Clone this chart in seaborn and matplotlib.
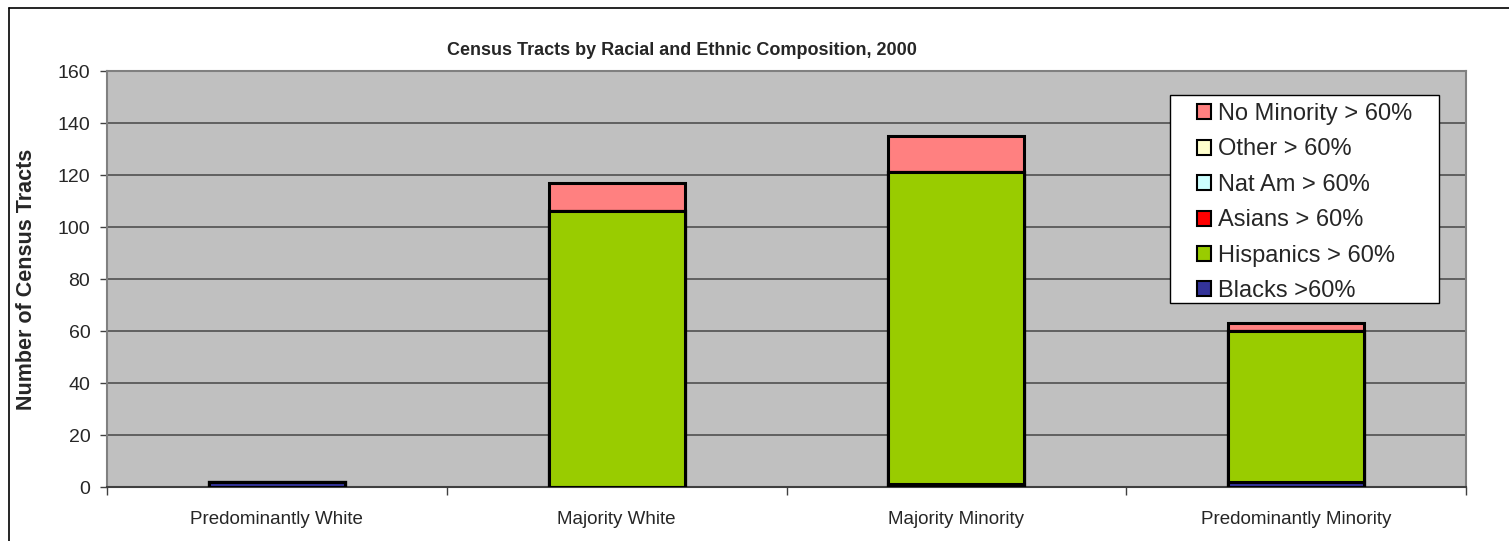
import matplotlib
matplotlib.use("Agg")
import matplotlib.pyplot as plt
import seaborn as sns
import numpy as np
import pandas as pd
from matplotlib.patches import Patch, Rectangle
from matplotlib.lines import Line2D

# data
categories = ["Predominantly White", "Majority White", "Majority Minority", "Predominantly Minority"]
series = ["Blacks >60%", "Hispanics > 60%", "Asians > 60%", "Nat Am > 60%", "Other > 60%", "No Minority > 60%"]
blacks = [2, 0, 1, 2]
hispanics = [0, 106, 120, 58]
asians = [0, 0, 0, 0]
nat_am = [0, 0, 0, 0]
other = [0, 0, 0, 0]
no_minority = [0, 11, 14, 3]
colors = ["#333399", "#99CC00", "#FF0000", "#CCFFFF", "#FFFFCC", "#FF8080"]
yticks = [0, 20, 40, 60, 80, 100, 120, 140, 160]

sns.set_style("white")
plt.rcParams['font.family'] = ['Liberation Sans', 'DejaVu Sans']

fig = plt.figure(figsize=(15.09, 5.41), dpi=100)
ax = fig.add_axes([107/1509, 54/541, 1359/1509, 416/541])
ax.set_facecolor("#C0C0C0")

# stacked bars: draw cumulative totals from the top down so lower layers cover upper
df = pd.DataFrame({"cat": categories, "Blacks >60%": blacks, "Hispanics > 60%": hispanics,
                   "Asians > 60%": asians, "Nat Am > 60%": nat_am, "Other > 60%": other,
                   "No Minority > 60%": no_minority})
cum = df[series].cumsum(axis=1)
for s, c in reversed(list(zip(series, colors))):
    sns.barplot(x=df["cat"], y=cum[s], color=c, width=0.4, edgecolor="black",
                linewidth=2.2, ax=ax, zorder=3, saturation=1)

ax.set_ylim(0, 160)
ax.set_xlim(-0.5, 3.5)
ax.set_yticks(yticks)
ax.grid(axis="y", color="#505050", linewidth=1.2, zorder=1)
ax.set_axisbelow(True)
for side in ["top", "right", "left"]:
    ax.spines[side].set_color("#808080")
    ax.spines[side].set_linewidth(1.5)
ax.spines["bottom"].set_color("#404040")
ax.spines["bottom"].set_linewidth(1.5)

ax.tick_params(axis="y", length=5, width=1, color="#404040", direction="out", left=True,
               labelsize=14, pad=7)
ax.tick_params(axis="x", length=0, labelsize=13.5, pad=17)
ax.set_xticks(np.arange(-0.5, 4, 1), minor=True)
ax.tick_params(axis="x", which="minor", length=6, width=1, color="#404040", bottom=True)

ax.set_xlabel("")
ax.set_ylabel("Number of Census Tracts", fontsize=15.5, fontweight="bold")
ax.yaxis.set_label_coords((37 - 107) / 1359, 0.5)

fig.text(682/1509, 1 - 50/541, "Census Tracts by Racial and Ethnic Composition, 2000",
         ha="center", va="center", fontsize=13, fontweight="bold")

# legend box and entries
ax.add_patch(Rectangle(((1170-107)/1359, (487-303)/416), (1439-1170)/1359, (303-95)/416,
                       transform=ax.transAxes, facecolor="white", edgecolor="black",
                       linewidth=1, zorder=5))
handles = [Patch(facecolor=c, edgecolor="black", linewidth=1.5, label=s)
           for s, c in reversed(list(zip(series, colors)))]
ax.legend(handles=handles, loc="upper left", bbox_to_anchor=((1197-107)/1359, (487-103)/416),
          frameon=False, fontsize=17, borderpad=0, borderaxespad=0, handlelength=0.6,
          handleheight=0.6, handletextpad=0.3, labelspacing=0.57).set_zorder(6)

# outer chart frame (left and top edges visible)
fig.add_artist(Line2D([9/1509, 9/1509], [0, 1 - 8/541], color="black", linewidth=1.2))
fig.add_artist(Line2D([9/1509, 1], [1 - 8/541, 1 - 8/541], color="black", linewidth=1.2))

fig.savefig("out.png", dpi=100)
